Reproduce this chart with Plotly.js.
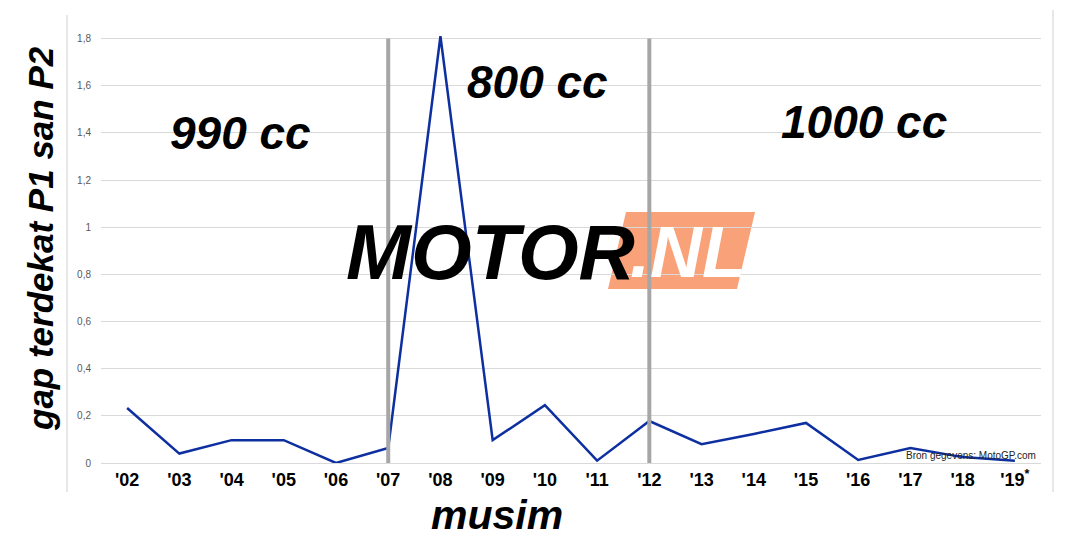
<!DOCTYPE html>
<html><head><meta charset="utf-8">
<script src="https://cdn.plot.ly/plotly-3.0.1.min.js"></script>
<style>html,body{margin:0;padding:0;background:#fff}#c{width:1077px;height:539px}</style>
</head><body><div id="c"></div>
<script>
const seasons = ["'02","'03","'04","'05","'06","'07","'08","'09","'10","'11","'12","'13","'14","'15","'16","'17","'18","'19"];
const seasonLabels = ["'02","'03","'04","'05","'06","'07","'08","'09","'10","'11","'12","'13","'14","'15","'16","'17","'18","'19<sup>*</sup>"];
const gapP1P2 = [0.233,0.04,0.097,0.097,0.0,0.064,1.81,0.097,0.245,0.01,0.178,0.08,0.123,0.17,0.013,0.064,0.025,0.01];
const eraBreaks = ["'07","'12"];
const eraLabels = ["990 cc","800 cc","1000 cc"];

const W=1077,H=539,L=101,R=36,T=15,B=76;
const pw=W-L-R, ph=H-T-B;
const px=x=>(x-L)/pw, py=y=>(H-B-y)/ph;

const font='"Liberation Sans", Arial, sans-serif';
const shapes=[];
eraBreaks.forEach(s=>shapes.push({type:'line',xref:'x',yref:'y',x0:s,x1:s,y0:0,y1:1.8,line:{color:'#a6a6a6',width:4},layer:'above'}));
// frame
shapes.push({type:'line',xref:'paper',yref:'paper',x0:px(67),x1:px(67),y0:py(15),y1:py(492),line:{color:'#d0d0d0',width:1}});
shapes.push({type:'line',xref:'paper',yref:'paper',x0:px(1053),x1:px(1053),y0:py(10),y1:py(492),line:{color:'#d0d0d0',width:1}});
// logo orange box
shapes.push({type:'path',xref:'paper',yref:'paper',layer:'below',
  path:`M ${px(626)} ${py(212)} L ${px(755)} ${py(212)} L ${px(737)} ${py(289)} L ${px(608)} ${py(289)} Z`,
  fillcolor:'#f9a178',line:{width:0}});

const base={xref:'paper',yref:'paper',showarrow:false,xanchor:'center',yanchor:'middle'};
const ann=[
 {text:eraLabels[0],x:px(240),y:py(133)},
 {text:eraLabels[1],x:px(537),y:py(82)},
 {text:eraLabels[2],x:px(864),y:py(122)}
].map(a=>Object.assign({},base,a,{font:{family:font,size:46,color:'#000',weight:'bold',style:'italic'}}));
ann.push(Object.assign({},base,{text:'MOTOR',x:px(490),y:py(252),font:{family:font,size:78,color:'#000',weight:'bold',style:'italic'}}));
ann.push(Object.assign({},base,{text:'.NL',x:px(688),y:py(252),font:{family:font,size:72,color:'#fff',weight:'bold',style:'italic'}}));
ann.push(Object.assign({},base,{text:'Bron gegevens: MotoGP.com',x:px(1038),y:py(455),xanchor:'right',font:{family:font,size:10,color:'#222'}}));
ann.push(Object.assign({},base,{text:'musim',x:px(497),y:py(539),yanchor:'bottom',borderpad:0,font:{family:font,size:41,color:'#000',weight:'bold',style:'italic'}}));
ann.push(Object.assign({},base,{text:'gap terdekat P1 san P2',x:px(40),y:py(239),textangle:-90,font:{family:font,size:35,color:'#000',weight:'bold',style:'italic'}}));

Plotly.newPlot('c',[{
  type:'scatter',mode:'lines',x:seasons,y:gapP1P2,
  line:{color:'#0d2fa0',width:2.5},hoverinfo:'skip'
}],{
  width:W,height:H,margin:{l:L,r:R,t:T,b:B},
  paper_bgcolor:'#fff',plot_bgcolor:'#fff',showlegend:false,
  separators:',.',
  xaxis:{type:'category',tickvals:seasons,ticktext:seasonLabels,showgrid:false,zeroline:false,showline:false,ticks:'',
    ticklabelstandoff:4,tickfont:{family:font,size:18,color:'#000',weight:'bold'},range:[-0.5,17.5],fixedrange:true},
  yaxis:{range:[0,1.9],dtick:0.2,tick0:0,showgrid:true,gridcolor:'#d9d9d9',gridwidth:1,zeroline:true,zerolinecolor:'#d9d9d9',
    showline:false,ticks:'',ticklabelstandoff:9,tickfont:{family:font,size:10,color:'#595959'},fixedrange:true},
  shapes:shapes,annotations:ann
},{staticPlot:true});
</script></body></html>
